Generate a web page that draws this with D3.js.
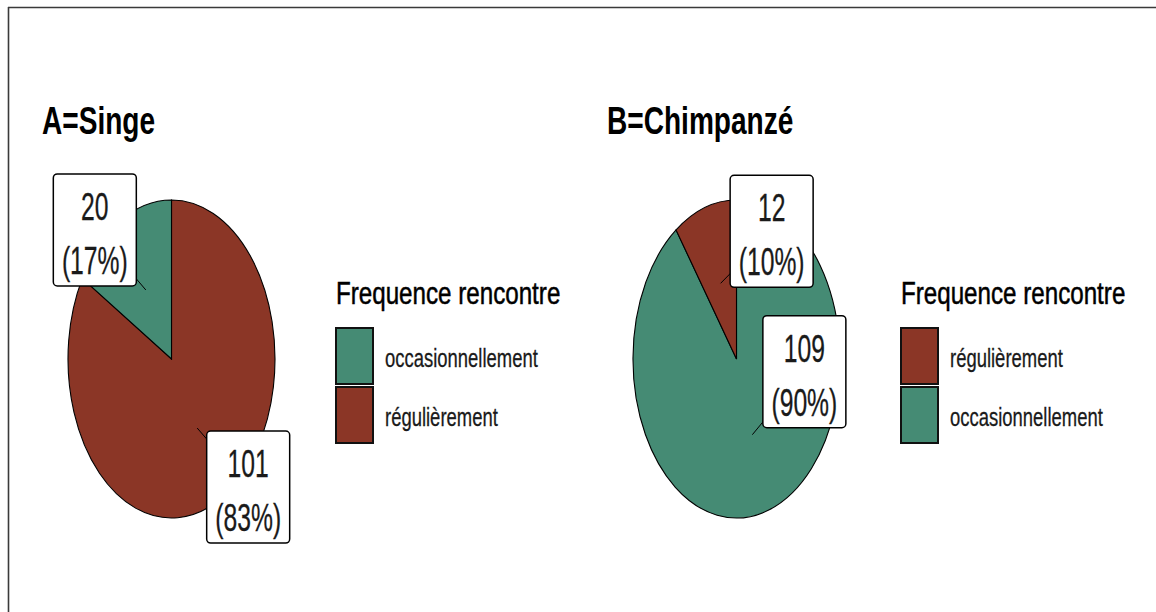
<!DOCTYPE html>
<html><head><meta charset="utf-8">
<script src="https://cdn.jsdelivr.net/npm/d3@7"></script>
<style>html,body{margin:0;padding:0;background:#fff;} svg{display:block;} text{font-family:"Liberation Sans",Arial,sans-serif;}</style>
</head><body>
<svg id="chart" width="1156" height="612"></svg>
<script>
// ---- data ----
const panelTitles = ["A=Singe", "B=Chimpanzé"];
const legendTitle = "Frequence rencontre";
const categoriesA = ["occasionnellement", "régulièrement"];
const valuesA = [20, 101];
const categoriesB = ["régulièrement", "occasionnellement"];
const valuesB = [12, 109];
const colorDomain = ["occasionnellement", "régulièrement"];
const colorRange = ["#458B74", "#8B3626"];

const svg = d3.select("#chart");
const color = d3.scaleOrdinal().domain(colorDomain).range(colorRange);

// frame lines
svg.append("line").attr("x1", 8).attr("x2", 1156).attr("y1", 7.5).attr("y2", 7.5)
  .attr("stroke", "#3a3a3a").attr("stroke-width", 1.6);
svg.append("line").attr("x1", 8.5).attr("x2", 8.5).attr("y1", 7).attr("y2", 612)
  .attr("stroke", "#3a3a3a").attr("stroke-width", 1.6);

function squeezedText(g, x, y, sx, txt, opts) {
  const t = g.append("g").attr("transform", `translate(${x},${y}) scale(${sx},1)`)
    .append("text").text(txt)
    .attr("font-size", opts.size)
    .attr("font-weight", opts.weight || "normal")
    .attr("text-anchor", opts.anchor || "start")
    .attr("fill", opts.fill || "#000");
  if (opts.stroke) t.attr("stroke", opts.fill || "#000").attr("stroke-width", opts.stroke);
  return t;
}

const panels = [
  { title: panelTitles[0], cats: categoriesA, vals: valuesA, x0: 0,
    labelOffsets: [[-51, -60], [51, 59]] },
  { title: panelTitles[1], cats: categoriesB, vals: valuesB, x0: 565,
    labelOffsets: [[51, -52], [52, -63]] }
];

panels.forEach(p => {
  const g = svg.append("g").attr("transform", `translate(${p.x0},0)`);
  // title
  squeezedText(g, 42, 134, 0.72, p.title, { size: 39, weight: "bold" });

  const cx = 171.5, cy = 359, rx = 103.5, ry = 159;
  const total = d3.sum(p.vals);
  // pie: larger level (last in legend) starts at top clockwise
  const data = p.cats.map((c, i) => ({ cat: c, val: p.vals[i], idx: i })).reverse();
  const arcs = d3.pie().sort(null).value(d => d.val)(data);
  const arc = d3.arc().innerRadius(0).outerRadius(1);
  const pg = g.append("g").attr("transform", `translate(${cx},${cy}) scale(${rx},${ry})`);
  pg.selectAll("path").data(arcs).join("path")
    .attr("d", arc)
    .attr("fill", d => color(d.data.cat))
    .attr("stroke", "#000")
    .attr("stroke-width", 1.1)
    .attr("vector-effect", "non-scaling-stroke");

  // labels
  arcs.forEach(a => {
    const mid = (a.startAngle + a.endAngle) / 2;
    const ax = cx + 0.5 * Math.sin(mid) * rx;
    const ay = cy - 0.5 * Math.cos(mid) * ry;
    const off = p.labelOffsets[a.data.idx];
    const bx = ax + off[0], by = ay + off[1];
    const w = 83, h = 112;
    g.append("line").attr("x1", ax).attr("y1", ay).attr("x2", bx).attr("y2", by)
      .attr("stroke", "#000").attr("stroke-width", 1);
    g.append("rect").attr("x", bx - w / 2).attr("y", by - h / 2)
      .attr("width", w).attr("height", h).attr("rx", 4)
      .attr("fill", "#fff").attr("stroke", "#000").attr("stroke-width", 1.5);
    const pct = Math.round(a.data.val / total * 100);
    squeezedText(g, bx, by - 10, 0.65, String(a.data.val), { size: 38, anchor: "middle", fill: "#1a1a1a", stroke: 0.3 });
    squeezedText(g, bx, by + 44, 0.65, `(${pct}%)`, { size: 38, anchor: "middle", fill: "#1a1a1a", stroke: 0.3 });
  });

  // legend
  const lx = 336;
  squeezedText(g, lx, 304, 0.78, legendTitle, { size: 31, stroke: 0.5 });
  p.cats.forEach((c, i) => {
    const ky = 328 + i * 59;
    g.append("rect").attr("x", lx).attr("y", ky).attr("width", 37).attr("height", 56)
      .attr("fill", color(c)).attr("stroke", "#111").attr("stroke-width", 2);
    squeezedText(g, lx + 49, ky + 39, 0.71, c, { size: 26, fill: "#1a1a1a", stroke: 0.3 });
  });
});
</script>
</body></html>
